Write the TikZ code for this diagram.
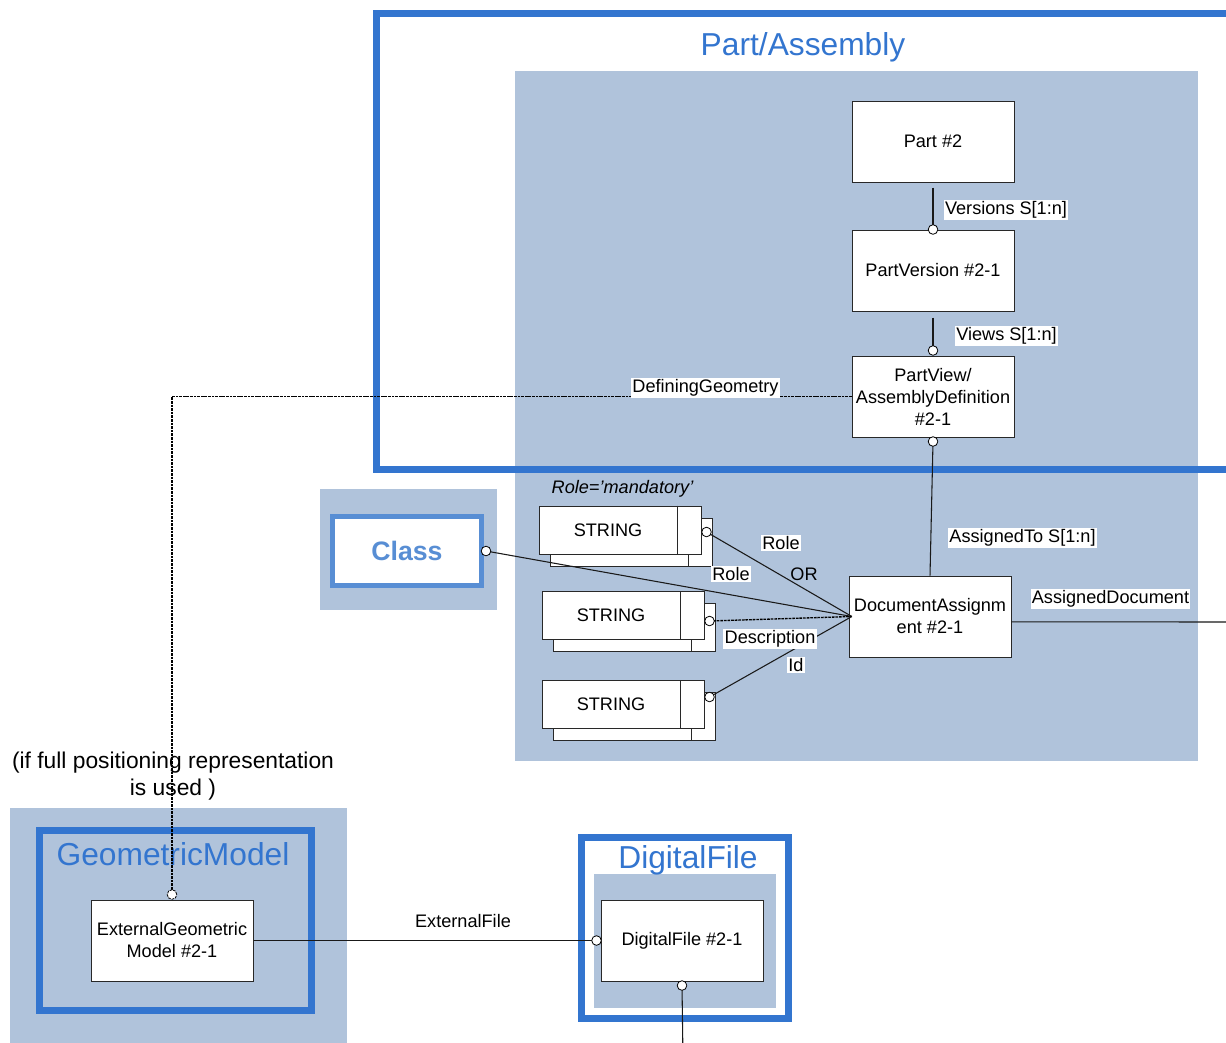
\documentclass[tikz,border=0pt]{standalone}
\usepackage{fontspec}
\setmainfont{Liberation Sans}
\usetikzlibrary{positioning, calc}
\definecolor{framebl}{RGB}{51, 117, 207}
\definecolor{panelgr}{RGB}{176, 195, 219}
\definecolor{classbl}{RGB}{88, 142, 212}
\definecolor{boxline}{RGB}{40, 40, 40}

\begin{document}
\begin{tikzpicture}[x=0.75pt, y=-0.75pt, font=\fontsize{13.6}{16.5}\selectfont,
  entity/.style={draw=boxline, line width=0.75pt, fill=white, minimum width=121.5pt, minimum height=60.75pt, align=center, inner sep=1pt},
  strbox/.style={draw=boxline, line width=0.75pt, fill=white, minimum width=121.5pt, minimum height=36pt, inner sep=0pt},
  ring/.style={circle, draw=black, fill=white, line width=0.6pt, minimum size=7.2pt, inner sep=0pt},
  conn/.style={draw=black!90, line width=0.8pt},
  dotconn/.style={draw=black, line width=1pt, dash pattern=on 2pt off 0.7pt},
  lbl/.style={fill=white, inner sep=1pt},
  title/.style={text=framebl, font=\fontsize{23.8}{28}\selectfont},
  frame/.style={draw=framebl, line width=5.25pt}]

  \useasboundingbox (0,0) rectangle (1226,1042);
  \clip (0,0) rectangle (1226,1042);

  % --- Fundos cinza-azulados ---
  \fill[panelgr] (515,71) rectangle (1198,761);
  \fill[panelgr] (320,489) rectangle (497,610);
  \fill[panelgr] (10,808) rectangle (347,1060);
  \fill[panelgr] (594,874) rectangle (776,1008);

  % --- Molduras azuis ---
  \draw[frame] (376,13.5) rectangle (1260,469);
  \draw[frame] (39.5,830.5) rectangle (311.5,1010.5);
  \draw[frame] (581.5,837.5) rectangle (788.5,1018.5);

  % Titulos
  \node[title] (tpart) at (803,47) {Part/Assembly};
  \node[title] (tgeo) at (173,854) {GeometricModel};
  \node[title] (tfile) at (688,860) {DigitalFile};
  \node[font=\fontsize{17.1}{20.25}\selectfont, align=center] (note) at (173,776) {(if full positioning representation\\is used )};

  % --- Entidades ---
  \node[entity] (part) at (933,141.5) {Part \#2};
  \node[entity] (pver) at (933,270.5) {PartVersion \#2-1};
  \node[entity] (pview) at (933,396.5) {PartView/\\AssemblyDefinition\\\#2-1};
  \node[entity] (docasg) at (930,616.5) {DocumentAssignm\\ent \#2-1};
  \node[entity] (extgeo) at (172,940.5) {ExternalGeometric\\Model \#2-1};
  \node[entity] (dfile) at (682,940.5) {DigitalFile \#2-1};

  \node[draw=classbl, line width=3.75pt, fill=white, minimum width=111.75pt, minimum height=51.75pt,
        text=classbl, font=\fontsize{20}{24}\selectfont\bfseries] (cls) at (407,551) {Class};

  % Caixas STRING (duplas)
  \foreach \n/\x/\y in {1/620/530, 2/623/615.5, 3/623/704.5}{
    \node[strbox] (sb\n) at (\x+11,\y+12) {};
    \draw[boxline, line width=0.75pt] (sb\n.north east) ++(-24,0) -- ++(0,48);
    \node[strbox] (s\n) at (\x,\y) {};
    \draw[boxline, line width=0.75pt] (s\n.north east) ++(-24,0) -- ++(0,48);
    \node (st\n) at ([xshift=-9pt]s\n.center) {STRING};
  }
  \node[font=\fontsize{13.6}{16.5}\selectfont\itshape] (mand) at (622.5,489) {Role=’mandatory’};

  % --- Ligacoes ---
  \draw[conn] ([yshift=-3.75pt]part.south) -- (pver.north) node[ring] {};
  \node[lbl] (lver) at (1006,210) {Versions S[1:n]};
  \draw[conn] ([yshift=-4.5pt]pver.south) -- ([yshift=3.75pt]pview.north) node[ring] {};
  \node[lbl] (lview) at (1006.5,336) {Views S[1:n]};
  \draw[conn] ([yshift=-3pt]pview.south) node[ring] {} -- (docasg.north);
  \node[lbl] (lasg) at (1022.5,538) {AssignedTo S[1:n]};

  \coordinate (asgend) at (1240,622);
  \draw[conn] ([yshift=-4pt]docasg.east) -- (asgend);
  \node[lbl] (ldoc) at (1110.5,599) {AssignedDocument};

  \coordinate (hub) at ([xshift=2.5pt]docasg.west);
  \draw[conn] ([xshift=1.5pt]cls.east) node[ring] {} -- (hub);
  \draw[conn] ([shift={(5,2)}]s1.east) node[ring] {} -- (hub);
  \draw[dotconn] ([shift={(5,5.5)}]s2.east) -- (hub);
  \node[ring] (r2) at ([shift={(5,5.5)}]s2.east) {};
  \draw[conn] ([shift={(5,-7.5)}]s3.east) node[ring] {} -- (hub);
  \node[lbl] (lrole) at (781,543) {Role};
  \node (lor) at (804,574) {OR};
  \node[lbl] (lrole2) at (731,574) {Role};
  \node[lbl] (ldesc) at (770,639) {Description};
  \node[lbl] (lid) at (796,665) {Id};

  % Geometria de definicao (tracejada)
  \draw[dotconn] (pview.west) -| ([yshift=3.75pt]extgeo.north) node[ring] {};
  \node[lbl] (ldef) at (705.5,388) {DefiningGeometry};

  % Arquivo externo
  \draw[conn] (extgeo.east) -- ([xshift=-3pt]dfile.west) node[ring] {};
  \node (lext) at (463,921) {ExternalFile};
  \coordinate (dfend) at (683,1060);
  \draw[conn] ([yshift=-3pt]dfile.south) node[ring] {} -- (dfend);

\end{tikzpicture}
\end{document}
